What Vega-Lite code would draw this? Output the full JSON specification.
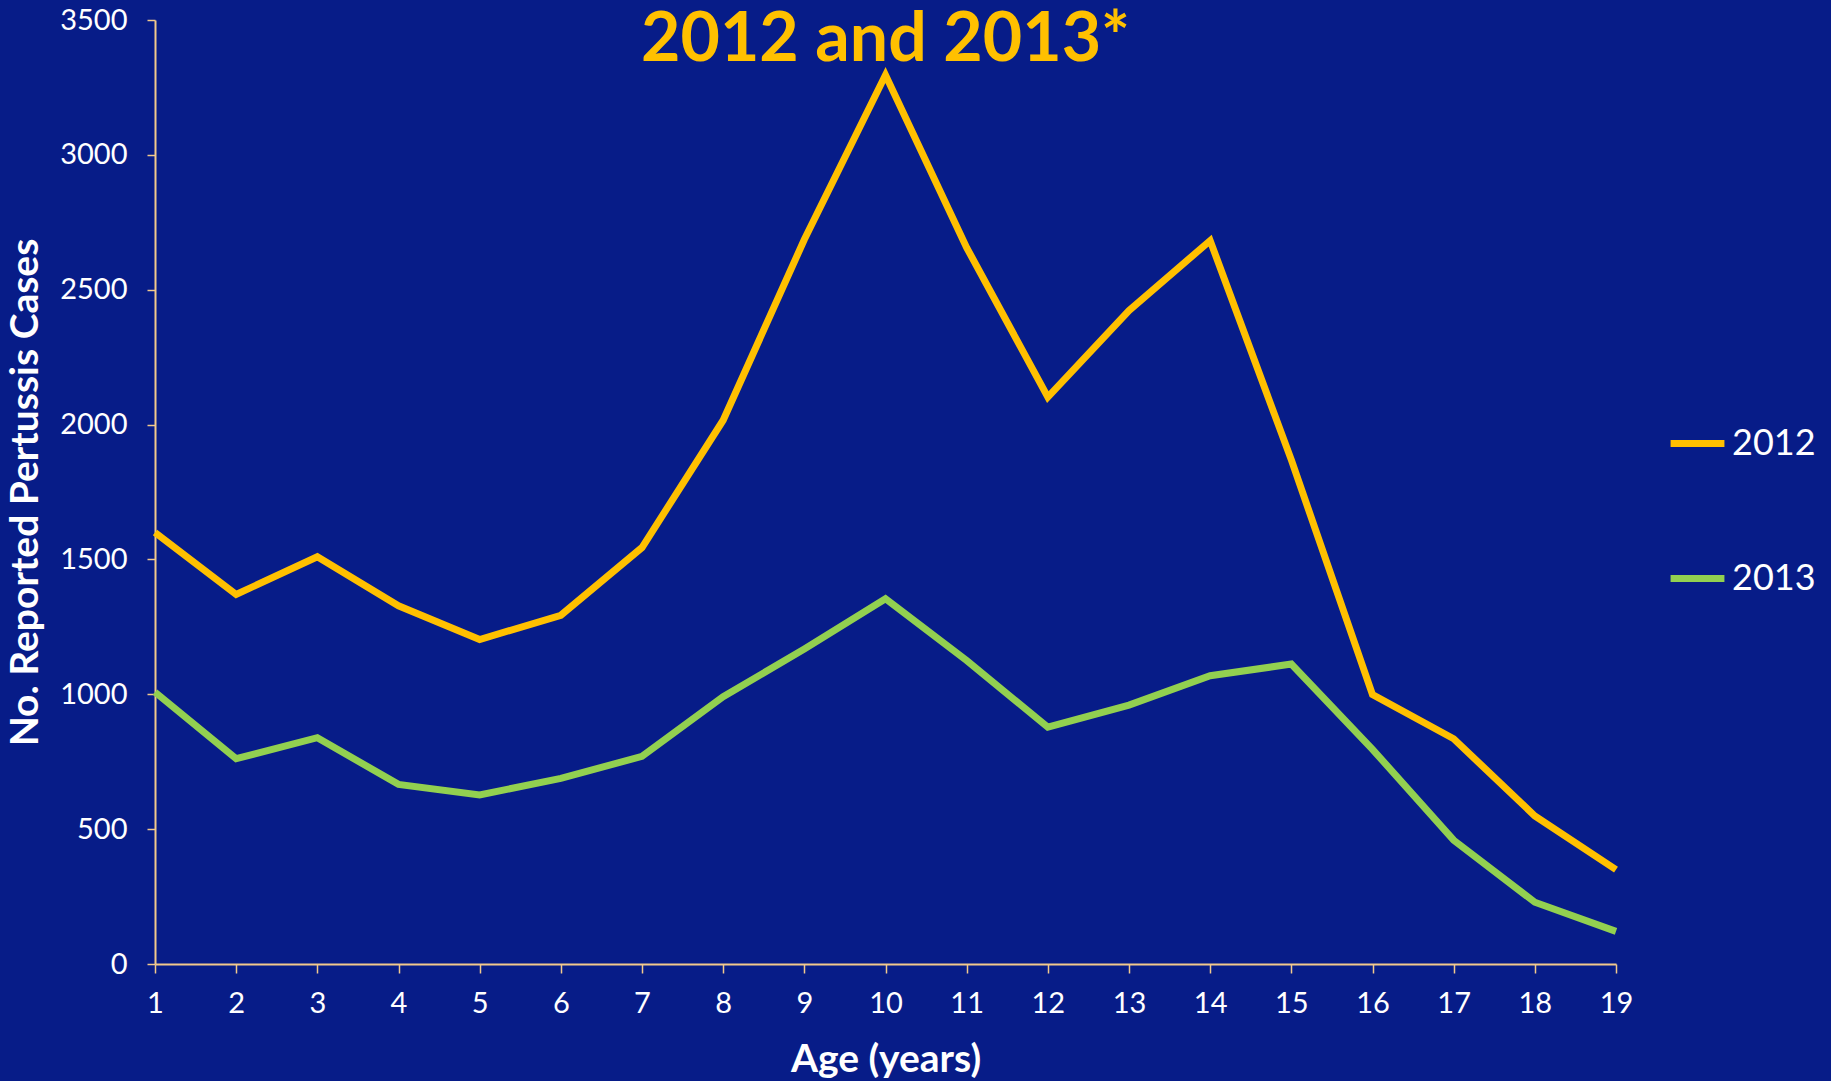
{
  "$schema": "https://vega.github.io/schema/vega-lite/v6.json",
  "autosize": "none",
  "width": 1461,
  "height": 944,
  "padding": {"left": 155, "top": 20, "right": 215, "bottom": 117},
  "background": "#071c88",
  "title": {
    "text": "2012 and  2013*",
    "font": "Lato",
    "fontWeight": "bold",
    "fontSize": 68,
    "color": "#ffc000",
    "anchor": "middle",
    "baseline": "alphabetic",
    "offset": 0,
    "dy": 123
  },
  "data": {
    "values": [
      {"age": 1, "year": "2012", "cases": 1600},
      {"age": 2, "year": "2012", "cases": 1370},
      {"age": 3, "year": "2012", "cases": 1510},
      {"age": 4, "year": "2012", "cases": 1328},
      {"age": 5, "year": "2012", "cases": 1203},
      {"age": 6, "year": "2012", "cases": 1293},
      {"age": 7, "year": "2012", "cases": 1544},
      {"age": 8, "year": "2012", "cases": 2016},
      {"age": 9, "year": "2012", "cases": 2686},
      {"age": 10, "year": "2012", "cases": 3296},
      {"age": 11, "year": "2012", "cases": 2656},
      {"age": 12, "year": "2012", "cases": 2102},
      {"age": 13, "year": "2012", "cases": 2423},
      {"age": 14, "year": "2012", "cases": 2682},
      {"age": 15, "year": "2012", "cases": 1869},
      {"age": 16, "year": "2012", "cases": 999},
      {"age": 17, "year": "2012", "cases": 835},
      {"age": 18, "year": "2012", "cases": 549},
      {"age": 19, "year": "2012", "cases": 350},
      {"age": 1, "year": "2013", "cases": 1008},
      {"age": 2, "year": "2013", "cases": 761},
      {"age": 3, "year": "2013", "cases": 839},
      {"age": 4, "year": "2013", "cases": 666},
      {"age": 5, "year": "2013", "cases": 627},
      {"age": 6, "year": "2013", "cases": 688},
      {"age": 7, "year": "2013", "cases": 770},
      {"age": 8, "year": "2013", "cases": 991},
      {"age": 9, "year": "2013", "cases": 1168},
      {"age": 10, "year": "2013", "cases": 1354},
      {"age": 11, "year": "2013", "cases": 1125},
      {"age": 12, "year": "2013", "cases": 878},
      {"age": 13, "year": "2013", "cases": 960},
      {"age": 14, "year": "2013", "cases": 1069},
      {"age": 15, "year": "2013", "cases": 1112},
      {"age": 16, "year": "2013", "cases": 796},
      {"age": 17, "year": "2013", "cases": 459},
      {"age": 18, "year": "2013", "cases": 229},
      {"age": 19, "year": "2013", "cases": 121}
    ]
  },
  "mark": {"type": "line", "strokeWidth": 7, "strokeJoin": "miter", "strokeCap": "butt"},
  "encoding": {
    "x": {
      "field": "age",
      "type": "quantitative",
      "scale": {"domain": [1, 19], "nice": false, "zero": false},
      "axis": {
        "values": [1,2,3,4,5,6,7,8,9,10,11,12,13,14,15,16,17,18,19],
        "format": "d",
        "title": "Age (years)",
        "grid": false,
        "domainColor": "#f2c98c",
        "domainWidth": 2,
        "tickColor": "#f2c98c",
        "tickSize": 9,
        "tickWidth": 1.5,
        "labelColor": "#ffffff",
        "labelFont": "Lato",
        "labelFontSize": 29,
        "labelPadding": 16,
        "labelFlush": false,
        "titleColor": "#ffffff",
        "titleFont": "Lato",
        "titleFontWeight": "bold",
        "titleFontSize": 39,
        "titlePadding": 22
      }
    },
    "y": {
      "field": "cases",
      "type": "quantitative",
      "scale": {"domain": [0, 3500], "nice": false},
      "axis": {
        "values": [0, 500, 1000, 1500, 2000, 2500, 3000, 3500],
        "format": "d",
        "title": "No. Reported Pertussis Cases",
        "grid": false,
        "domainColor": "#f2c98c",
        "domainWidth": 2,
        "tickColor": "#f2c98c",
        "tickSize": 8,
        "tickWidth": 1.5,
        "labelColor": "#ffffff",
        "labelFont": "Lato",
        "labelFontSize": 29,
        "labelPadding": 20,
        "labelFlush": false,
        "titleColor": "#ffffff",
        "titleFont": "Lato",
        "titleFontWeight": "bold",
        "titleFontSize": 39,
        "titlePadding": 14
      }
    },
    "color": {
      "field": "year",
      "type": "nominal",
      "scale": {"domain": ["2012", "2013"], "range": ["#ffc000", "#92d050"]},
      "legend": {
        "title": null,
        "orient": "none",
        "legendX": 1512,
        "legendY": 393,
        "symbolType": "stroke",
        "symbolSize": 2900,
        "symbolStrokeWidth": 7,
        "labelColor": "#ffffff",
        "labelFont": "Lato",
        "labelFontSize": 36,
        "labelOffset": 4,
        "rowPadding": 86
      }
    }
  },
  "config": {
    "view": {"stroke": null}
  }
}
